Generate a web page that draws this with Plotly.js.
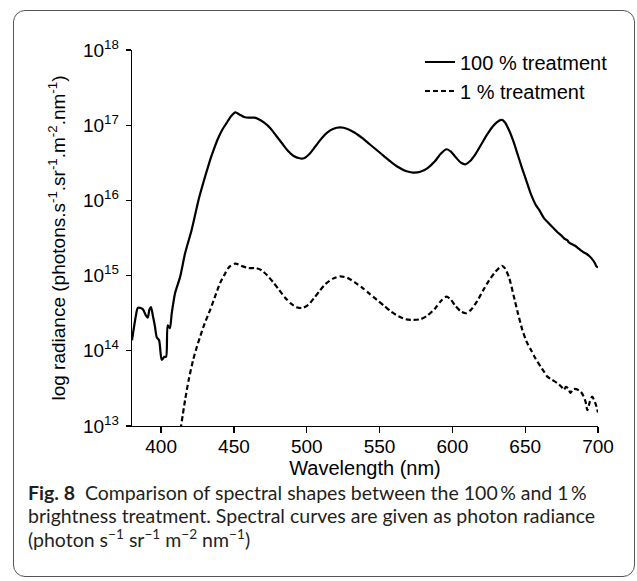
<!DOCTYPE html>
<html>
<head>
<meta charset="utf-8">
<script src="https://cdn.plot.ly/plotly-3.0.1.min.js"></script>
<style>
  html, body { margin: 0; padding: 0; background: #ffffff; }
  #wrap { position: relative; width: 637px; height: 581px; overflow: hidden; }
  #chart { position: absolute; left: 0; top: 0; width: 637px; height: 581px; }
  #frame { position: absolute; left: 13px; top: 10px; width: 620px; height: 565px;
           border: 1px solid #555555; border-radius: 12px; pointer-events: none; }
</style>
</head>
<body>
<div id="wrap">
  <div id="chart"></div>
  <div id="frame"></div>
</div>
<script>
// Wavelength (nm) and log10 of photon radiance
const wl100 = [380,382.7,384,386,387.6,389.5,390.8,392,393,394.5,395.8,397,398.6,400.4,402.2,403.4,404.5,406,407.3,409.6,413,416.5,421,425.6,428,431,434,436,439,442,445,448,451,454,457,460,464,467,471,475,479,483,487,491,495,498,502,506,510,514,518,523,528,533,538,543,548,553,558,563,568,573,578,583,588,592,596,599,602,606,609,612,616,620,624,628,632,634,636,639,642,645,648,651,654,657,660,663,666,669,672,675,677,679,680,682,684,686,688,690,692,694,696,698,699,700];
const log100 = [14.14,14.47,14.57,14.57,14.55,14.47,14.44,14.55,14.58,14.45,14.32,14.18,14.14,13.88,13.92,13.92,14.34,14.30,14.50,14.77,14.98,15.30,15.61,16.00,16.17,16.37,16.56,16.67,16.82,16.94,17.03,17.12,17.17,17.14,17.11,17.10,17.10,17.08,17.03,16.96,16.86,16.76,16.66,16.59,16.56,16.56,16.62,16.72,16.82,16.90,16.95,16.97,16.95,16.90,16.83,16.75,16.67,16.59,16.51,16.44,16.39,16.37,16.38,16.43,16.52,16.62,16.68,16.65,16.58,16.50,16.48,16.52,16.62,16.75,16.88,16.99,17.06,17.07,17.04,16.93,16.78,16.60,16.42,16.25,16.08,15.95,15.86,15.76,15.70,15.64,15.58,15.53,15.49,15.47,15.44,15.42,15.40,15.37,15.34,15.31,15.29,15.26,15.22,15.16,15.12,15.11];

const wl1 = [412.5,416.5,419,422,424.5,427,430,433.6,437,440.5,444,447,451,455,460,465,469,473,477,481,485,489,493,497,501,505,509,513,518,523,528,533,538,543,548,553,558,563,568,573,578,583,588,592,596,599,602,606,609.5,613,617,621,625,629,632,634,636,639,642,645,648,651,654,657,660.6,663,665,668,672,675,676.5,678,679.5,681,683,685,688,690,691.5,692.7,694.5,696,698.4,700];
const log1 = [12.85,13.35,13.62,13.88,14.05,14.20,14.37,14.54,14.72,14.90,15.03,15.12,15.16,15.13,15.10,15.10,15.07,15.00,14.91,14.81,14.71,14.63,14.58,14.57,14.61,14.70,14.80,14.89,14.96,14.99,14.97,14.91,14.84,14.76,14.68,14.60,14.52,14.46,14.42,14.41,14.42,14.47,14.56,14.66,14.72,14.68,14.60,14.52,14.50,14.55,14.66,14.80,14.93,15.04,15.10,15.13,15.10,14.97,14.74,14.50,14.28,14.12,14.01,13.90,13.79,13.72,13.66,13.62,13.57,13.52,13.48,13.52,13.50,13.44,13.49,13.49,13.46,13.40,13.32,13.21,13.33,13.39,13.29,13.18];

const seriesNames = ['100 % treatment', '1 % treatment'];
const xTicks = [400, 450, 500, 550, 600, 650, 700];
const yTickExp = [13, 14, 15, 16, 17, 18];

const rad100 = log100.map(v => Math.pow(10, v));
const rad1 = log1.map(v => Math.pow(10, v));

const AX_FONT = 'Liberation Sans, Arial, Helvetica, sans-serif';
const CAP_FONT = 'Lato, Open Sans, sans-serif';

const traces = [
  { x: wl100, y: rad100, name: seriesNames[0], type: 'scatter', mode: 'lines',
    line: { color: '#000000', width: 2.2, shape: 'spline', smoothing: 0.7 } },
  { x: wl1, y: rad1, name: seriesNames[1], type: 'scatter', mode: 'lines',
    line: { color: '#000000', width: 2.2, dash: '5px,3px', shape: 'spline', smoothing: 0.7 } }
];

const CAP_X = -0.2275;
const layout = {
  width: 637, height: 581,
  margin: { l: 132, r: 39, t: 50, b: 155, pad: 0 },
  paper_bgcolor: '#ffffff', plot_bgcolor: '#ffffff',
  font: { family: AX_FONT, color: '#000000', size: 19 },
  showlegend: true,
  legend: { x: 0.618, y: 1.02, xanchor: 'left', yanchor: 'top',
            bgcolor: 'rgba(0,0,0,0)', borderwidth: 0, itemwidth: 30,
            font: { family: AX_FONT, size: 20, color: '#000000' }, tracegroupgap: 0 },
  xaxis: {
    range: [380, 700], tickvals: xTicks, ticktext: xTicks.map(String),
    showgrid: false, zeroline: false, showline: true, linecolor: '#000000', linewidth: 1.3,
    ticks: 'outside', ticklen: 6, tickwidth: 1.3, tickcolor: '#000000',
    ticklabelstandoff: -3,
    tickfont: { family: AX_FONT, size: 19, color: '#000000' },
    title: { text: 'Wavelength (nm)', font: { family: AX_FONT, size: 20, color: '#000000' }, standoff: 2 }
  },
  yaxis: {
    type: 'log', range: [13, 18],
    tickvals: yTickExp.map(e => Math.pow(10, e)),
    ticktext: yTickExp.map(e => '10<sup>' + e + '</sup>'),
    showgrid: false, zeroline: false, showline: true, linecolor: '#000000', linewidth: 1.3,
    ticks: 'outside', ticklen: 5, tickwidth: 1.3, tickcolor: '#000000',
    ticklabelstandoff: 3,
    tickfont: { family: AX_FONT, size: 19, color: '#000000' },
    title: { text: 'log radiance (photons.s<sup>-1</sup>.sr<sup>-1</sup>.m<sup>-2</sup>.nm<sup>-1</sup>)',
             font: { family: AX_FONT, size: 19, color: '#000000' }, standoff: 12 }
  },
  annotations: [
    { xref: 'paper', yref: 'paper', x: CAP_X, y: -0.176, xanchor: 'left', yanchor: 'middle',
      showarrow: false, align: 'left',
      text: '<b>Fig. 8</b>  Comparison of spectral shapes between the 100\u2009% and 1\u2009%',
      font: { family: CAP_FONT, size: 19.5, color: '#231f20' } },
    { xref: 'paper', yref: 'paper', x: CAP_X, y: -0.237, xanchor: 'left', yanchor: 'middle',
      showarrow: false, align: 'left',
      text: 'brightness treatment. Spectral curves are given as photon radiance',
      font: { family: CAP_FONT, size: 19.5, color: '#231f20' } },
    { xref: 'paper', yref: 'paper', x: CAP_X, y: -0.300, xanchor: 'left', yanchor: 'middle',
      showarrow: false, align: 'left',
      text: '(photon s<sup>\u22121</sup> sr<sup>\u22121</sup> m<sup>\u22122</sup> nm<sup>\u22121</sup>)',
      font: { family: CAP_FONT, size: 19.5, color: '#231f20' } }
  ]
};

Plotly.newPlot('chart', traces, layout, { displayModeBar: false, staticPlot: true });
</script>
</body>
</html>
